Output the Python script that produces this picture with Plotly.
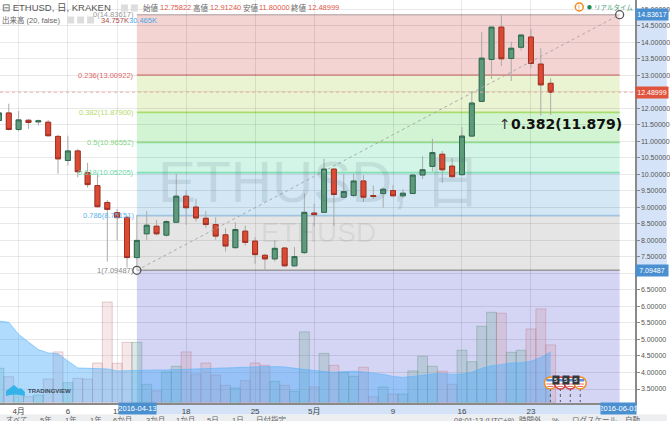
import pandas as pd
import plotly.graph_objects as go

dates = pd.date_range("2016-03-30", "2016-05-25", freq="D")
opens = [11.63,11.86,11.36,11.64,11.59,11.58,11.15,10.42,10.71,10.05,9.66,9.15,8.84,8.70,7.48,8.20,8.43,8.16,8.55,9.34,9.01,8.67,8.48,8.17,7.78,8.28,7.98,7.55,7.44,7.77,7.23,7.63,8.83,8.85,10.16,9.31,9.36,9.80,9.36,9.42,9.51,9.35,9.42,9.98,10.24,10.61,10.25,9.99,11.16,12.21,13.48,14.46,13.51,13.85,14.16,13.34,12.75822]
highs = [11.93,12.14,11.92,11.66,11.66,11.65,11.20,11.17,10.77,10.35,10.02,9.22,8.95,8.72,8.77,8.89,8.62,8.62,10.02,9.51,9.26,8.89,8.70,8.37,8.55,8.45,8.10,7.59,8.00,7.80,7.80,9.43,9.11,10.47,10.18,10.02,10.02,9.98,9.66,9.60,9.68,9.55,9.99,10.55,11.08,10.71,10.50,11.43,12.52,14.31,14.47,14.84,14.02,14.24,14.41,13.82,12.9124]
lows = [11.60,11.33,11.30,11.38,11.48,11.15,10.02,10.27,9.91,9.60,9.00,7.36,8.00,7.18,7.09,8.00,8.15,8.11,8.53,8.47,8.57,8.38,8.02,7.66,7.76,7.84,7.29,7.09,7.36,7.21,7.21,7.59,8.43,8.83,8.45,9.28,9.30,9.16,9.26,8.99,9.34,9.29,9.40,9.86,10.09,9.74,9.92,9.97,11.14,12.19,12.89,13.28,12.83,13.75,13.23,11.78,11.80]
closes = [11.86,11.36,11.65,11.57,11.62,11.17,10.47,10.71,10.08,9.69,9.02,8.94,8.69,7.48,8.00,8.46,8.20,8.57,9.34,8.99,8.68,8.48,8.13,7.83,8.33,7.94,7.57,7.44,7.76,7.23,7.51,8.85,8.78,10.16,9.39,9.48,9.80,9.31,9.33,9.55,9.35,9.43,9.98,10.14,10.66,10.14,9.93,11.16,12.16,13.52,14.46,13.50,13.82,14.22,13.36,12.71,12.48999]
volumes = [20.6,15.5,6.5,3.4,4.4,14.1,30.5,11.9,14.5,14.1,23.8,60.7,23.6,36.3,36.3,10.9,6.9,18.4,21.8,30.5,17.1,23.8,16.5,10.3,8.7,13.1,23.8,22.4,12.7,10.3,6.7,42.6,9.3,29.6,22.4,18.2,15.7,21.2,3.4,9.3,5.0,5.0,19.0,27.8,21.8,18.8,10.9,31.5,24.6,46.0,54.5,53.9,30.3,31.5,44.4,56.5,34.757]
volume_ma = [49.2,48.4,41.1,36.3,31.9,29.9,29.4,25.0,20.8,20.6,20.4,20.2,19.0,19.2,19.6,19.6,19.6,19.6,19.8,20.2,20.6,20.8,21.0,21.2,21.4,21.6,21.6,21.6,21.6,21.4,20.6,19.8,19.2,18.6,18.2,18.4,18.8,18.4,17.8,16.9,15.7,15.1,15.7,16.5,17.1,17.5,16.9,17.1,18.2,20.6,22.2,22.8,23.8,24.0,24.8,27.2,30.465]

fib_ratios = ["0","0.236","0.382","0.5","0.618","0.786","1"]
fib_levels = [14.83617,13.00922,11.87900,10.96552,10.05205,8.75151,7.09487]
fib_fills = ["#f4d3d3","#eaf4d3","#d3f4d3","#d3f5e8","#d3e8f4","#e5e5e5"]
fib_lines = ["#c4b4b4","#d98c8c","#a8dc6c","#8fdc8c","#80e0b4","#a0c4e0","#9a9a9a"]
fib_text = ["#9a9a9a","#e06666","#b5d96a","#7fd67f","#66d9a8","#5ab0e8","#8a8a8a"]
fib_start, fib_end = "2016-04-13", "2016-06-01"

tick_dates = ["2016-04-01","2016-04-06","2016-04-11","2016-04-18","2016-04-25","2016-05-01","2016-05-09","2016-05-16","2016-05-23"]
tick_text = ["4月","6","11","18","25","5月","9","16","23"]
price_ticks = [3.5,4.0,4.5,5.0,5.5,6.0,6.5,7.0,7.5,8.0,8.5,9.0,9.5,10.0,10.5,11.0,11.5,12.0,12.5,13.0,13.5,14.0,14.5,15.0]
price_text = ["3.50000","4.00000","4.50000","5.00000","5.50000","6.00000","6.50000","","7.50000","8.00000","8.50000","9.00000","9.50000","10.00000","10.50000","11.00000","11.50000","12.00000","","13.00000","13.50000","14.00000","14.50000","15.00000"]

W, H = 670, 421
PW, PH = 638, 403
px = lambda x: x / PW
py = lambda y: 1 - y / PH
UI = "Liberation Sans, Noto Sans CJK JP"
GREEN, GREEN_D = "#5d9b7b", "#2f6b50"
RED, RED_D = "#dd4a33", "#a33022"

fig = go.Figure()
fig.add_trace(go.Scatter(x=dates, y=volume_ma, yaxis="y2", mode="lines", fill="tozeroy",
                         line=dict(color="rgba(90,180,250,0.6)", width=1), fillcolor="rgba(66,170,250,0.42)"))
vcolors = ["rgba(95,160,135,0.22)" if c >= o else "rgba(200,110,110,0.16)" for o, c in zip(opens, closes)]
vlines = ["rgba(95,150,130,0.38)" if c >= o else "rgba(185,110,120,0.32)" for o, c in zip(opens, closes)]
fig.add_trace(go.Bar(x=dates, y=volumes, yaxis="y2", marker=dict(color=vcolors, line=dict(color=vlines, width=1))))
gray = dict(line=dict(color="#aaaaaa", width=1), fillcolor="#aaaaaa")
fig.add_trace(go.Candlestick(x=dates, open=opens, high=highs, low=lows, close=closes, whiskerwidth=0,
                             increasing=gray, decreasing=gray))
body_hi = [max(a, b) for a, b in zip(opens, closes)]
body_lo = [min(a, b) for a, b in zip(opens, closes)]
fig.add_trace(go.Candlestick(x=dates, open=opens, high=body_hi, low=body_lo, close=closes, whiskerwidth=0,
                             increasing=dict(line=dict(color=GREEN_D, width=1), fillcolor=GREEN),
                             decreasing=dict(line=dict(color=RED_D, width=1), fillcolor=RED)))
fig.add_trace(go.Scatter(x=[fib_start, fib_end], y=[fib_levels[-1], fib_levels[0]], mode="lines+markers",
                         line=dict(color="#aaaaaa", width=1, dash="dot"),
                         marker=dict(size=8, color="rgba(255,255,255,0.4)", line=dict(color="#555555", width=1.3))))

shapes = []
def rect(x0, y0, x1, y1, color, layer="below", xref="paper", yref="paper", line=None, lw=0):
    shapes.append(dict(type="rect", x0=x0, y0=y0, x1=x1, y1=y1, xref=xref, yref=yref, fillcolor=color,
                       layer=layer, line=dict(width=lw, color=line or color)))

# right and bottom axis bands
rect(1, fib_levels[-1], W / PW, fib_levels[0], "#d5e3f8", yref="y")
rect(px(137.5), py(403), px(622.5), py(414.5), "#d3e2f7")
rect(0, py(414.5), W / PW, py(421), "#eceef0")
# fibonacci fills
for i, c in enumerate(fib_fills):
    rect(fib_start, fib_levels[i], fib_end, fib_levels[i + 1], c, xref="x", yref="y")
rect(fib_start, fib_levels[-1], fib_end, 3.0, "#d4d4f4", xref="x", yref="y")
for lev, c in zip(fib_levels, fib_lines):
    shapes.append(dict(type="line", x0=fib_start, x1=fib_end, y0=lev, y1=lev, xref="x", yref="y",
                       layer="below", line=dict(color=c, width=1.6)))
# last price line
shapes.append(dict(type="line", x0=0, x1=1, y0=closes[-1], y1=closes[-1], xref="paper", yref="y",
                   layer="above", line=dict(color="#ecaaa0", width=1, dash="dot")))

# tradingview logo
shapes.append(dict(type="path", xref="paper", yref="paper", layer="above", fillcolor="#35b3e8", line=dict(width=0),
                   path="M %f %f L %f %f L %f %f L %f %f L %f %f L %f %f L %f %f Q %f %f %f %f Z" % (
                       px(6), py(396), px(6), py(391), px(14), py(385), px(19), py(389), px(21), py(388), px(25), py(392),
                       px(25), py(396), px(15), py(393), px(6), py(396))))
# flags
flag_x = [553, 563, 573, 583]
flag_c = ["#f28c1e", "#d63b3b", "#d63b3b", "#f28c1e"]
for fx, fc in zip(flag_x, flag_c):
    shapes.append(dict(type="line", x0=px(fx), x1=px(fx), y0=py(388), y1=py(402), xref="paper", yref="paper",
                       layer="above", line=dict(color="#555555", width=1, dash="dot")))
for fx, fc in zip(flag_x, flag_c):
    shapes.append(dict(type="circle", x0=px(fx - 6), x1=px(fx + 6), y0=py(389), y1=py(377), xref="paper", yref="paper",
                       layer="above", fillcolor="#ffffff", line=dict(color=fc, width=1.5)))
    rect(px(fx - 4), py(381.5), px(fx + 4), py(379), "#5b8fd8", layer="above")
    rect(px(fx - 4), py(384.5), px(fx + 4), py(383.5), "#e07070", layer="above")
    rect(px(fx - 3), py(387), px(fx + 3), py(386), "#e07070", layer="above")
# header icons
for ix, iy in [(125, 8), (135, 8), (71, 20), (81, 20), (91, 20)]:
    rect(px(ix - 3.5), py(iy - 3.5), px(ix + 3.5), py(iy + 3.5), "#dddddd", layer="above")
shapes.append(dict(type="circle", x0=px(578), x1=px(586), y0=py(11), y1=py(3), xref="paper", yref="paper",
                   layer="above", fillcolor="#ffffff", line=dict(color="#f28c1e", width=1.5)))
shapes.append(dict(type="circle", x0=px(590), x1=px(594.5), y0=py(9.5), y1=py(5), xref="paper", yref="paper",
                   layer="above", fillcolor="#1c8a5a", line=dict(width=0)))

ann = []
def text(x, y, s, size=8, color="#555555", anchor="left", family=UI, **kw):
    ann.append(dict(x=px(x), y=py(y), xref="paper", yref="paper", text=s, showarrow=False, xanchor=anchor,
                    yanchor="middle", font=dict(size=size, color=color, family=family), borderpad=0, **kw))

# watermarks
text(158, 182, "ETHUSD, 日", 57, "rgba(90,110,130,0.15)")
text(261, 232, "ETHUSD", 28, "rgba(90,90,90,0.1)")
# fib labels
for r, lev, c in zip(fib_ratios, fib_levels, fib_text):
    text(135.5, 14.7 + (14.836 - lev) * 33.02, f"{r}({lev:.5f})", 7.5, c, "right")
# header
text(1, 8, "⊟ ETHUSD, 日, KRAKEN", 9.5, "#555555")
text(143, 8, "始値", 7.5, "#666666"); text(160, 8, "12.75822", 7.5, "#e0584a")
text(193, 8, "高値", 7.5, "#666666"); text(210, 8, "12.91240", 7.5, "#e0584a")
text(243, 8, "安値", 7.5, "#666666"); text(259, 8, "11.80000", 7.5, "#e0584a")
text(291, 8, "終値", 7.5, "#666666"); text(308, 8, "12.48999", 7.5, "#e0584a")
text(1, 20, "出来高 (20, false)", 7.5, "#666666")
text(100, 20, "34.757K", 7.5, "#b04a4a"); text(129, 20, "30.465K", 7.5, "#4aa8e8")
text(582, 7, "!", 7, "#f28c1e", "center")
text(596, 7, "リアルタイム", 6.5, "#4aa27c")
# callout
text(500, 124, "↑", 14, "#333333", family="DejaVu Sans")
text(512, 124, "<b>0.382(11.879)</b>", 14, "#111111", family="DejaVu Sans")
# logo
text(27, 391, "<b>TRADINGVIEW</b>", 6, "#3a4a55")
# flag tags
for fx in [559, 569, 579]:
    text(fx, 379.7, "5", 6, "#ffffff", "center", bgcolor="#33393f", width=6, height=8)
# axis label boxes
for y, s, c in [(14.7, "14.83617", "#4a8fd0"), (92.5, "12.48999", "#e0533d"), (270.3, "7.09487", "#4a8fd0")]:
    text(638, y, s, 7, "#ffffff", "left", bgcolor=c, width=32, height=11, align="center")
text(119, 409, "2016-04-13", 7.5, "#ffffff", "left", bgcolor="#4a8fd0", width=37, height=11, align="center")
text(603, 409, "2016-06-01", 7.5, "#ffffff", "left", bgcolor="#4a8fd0", width=35, height=11, align="center")
# bottom toolbar (cut by the window edge)
for x, s in [(5,"すべて"),(39,"5年"),(64,"1年"),(89,"1年"),(113,"6か月"),(146,"3か月"),(176,"1か月"),(207,"5日"),(232,"1日"),(256,"日付指定"),
             (455,"08:01:13 (UTC+9)"),(520,"時間外"),(554,"%"),(574,"ログスケール"),(627,"自動")]:
    text(x, 420, s, 7.5, "#666666")

fig.update_layout(
    width=W, height=H, margin=dict(l=0, r=W - PW, t=0, b=H - PH), autosize=False,
    paper_bgcolor="#ffffff", plot_bgcolor="#ffffff", showlegend=False, hovermode=False,
    bargap=0, boxmode="overlay", boxgap=0.28, shapes=shapes, annotations=ann,
    font=dict(family=UI, color="#555555", size=8),
    xaxis=dict(type="date", range=["2016-03-30 02:38", "2016-06-02 13:26"], rangeslider=dict(visible=False),
               tickmode="array", tickvals=tick_dates, ticktext=tick_text, tickfont=dict(size=8, color="#444444"),
               ticks="", ticklabelstandoff=0, showgrid=True, gridcolor="rgba(0,0,0,0.085)", gridwidth=1,
               showline=True, linecolor="#8a8a8a", linewidth=1.5, zeroline=False),
    yaxis=dict(range=[3.076, 15.281], side="right", tickmode="array", tickvals=price_ticks, ticktext=price_text,
               tickfont=dict(size=7, color="#555555"), ticks="outside", ticklen=3, tickcolor="#888888",
               showgrid=True, gridcolor="rgba(0,0,0,0.085)", gridwidth=1,
               showline=True, linecolor="#8a8a8a", linewidth=1.5, zeroline=False),
    yaxis2=dict(range=[-0.4, 243.4], overlaying="y", side="left", visible=False, showgrid=False),
)
fig.write_html("out.html", config=dict(displayModeBar=False, staticPlot=True),
               post_script="document.body.style.margin='0';document.body.style.overflow='hidden';")
